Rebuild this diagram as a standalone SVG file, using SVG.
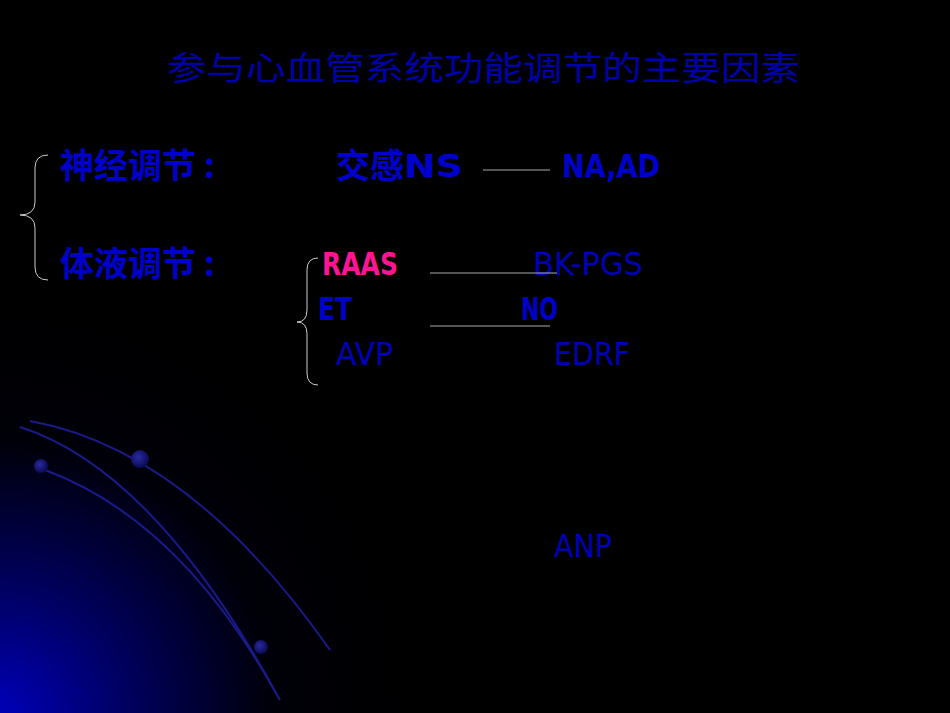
<svg xmlns="http://www.w3.org/2000/svg" width="950" height="713" viewBox="0 0 950 713">
<defs>
<radialGradient id="glow" cx="0" cy="713" r="420" gradientUnits="userSpaceOnUse">
<stop offset="0" stop-color="#0000B8"/>
<stop offset="0.3" stop-color="#000060"/>
<stop offset="0.65" stop-color="#000008"/>
<stop offset="1" stop-color="#000000"/>
</radialGradient>
<radialGradient id="ball" cx="0.4" cy="0.4" r="0.6">
<stop offset="0" stop-color="#2a2aa0"/>
<stop offset="1" stop-color="#0a0a55"/>
</radialGradient>
<style>
.t{font-family:"DejaVu Sans Condensed","DejaVu Sans","Noto Sans CJK SC",sans-serif;fill:#0000CC;}
.c{font-family:"Noto Sans CJK SC",sans-serif;fill:#0000CC;font-weight:bold;}
.b{font-weight:bold;}
.arc{fill:none;stroke:#1a1a8a;stroke-width:2;}
.ln{stroke:#aaaaaa;stroke-width:1;}
.br{fill:none;stroke:#cccccc;stroke-width:1;}
</style>
</defs>
<rect width="950" height="713" fill="#000"/>
<rect width="950" height="713" fill="url(#glow)"/>
<g id="background">
<path class="arc" d="M30 421 Q190 450 330 650"/>
<path class="arc" d="M20 427 Q155 470 280 700"/>
<path class="arc" d="M45 470 Q180 520 277 695"/>
<circle cx="140" cy="459" r="9" fill="url(#ball)"/>
<circle cx="41" cy="466" r="7" fill="url(#ball)"/>
<circle cx="261" cy="647" r="7" fill="url(#ball)"/>
</g>
<text class="c" x="167" y="80" font-size="33" textLength="633" lengthAdjust="spacingAndGlyphs" style="fill:#0000AA;font-weight:normal">参与心血管系统功能调节的主要因素</text>
<g id="neural">
<text class="c" x="60" y="178" font-size="34">神经调节 :</text>
<text class="c" x="336" y="178" font-size="34">交感</text>
<text class="t b" x="404" y="177" font-size="32" textLength="59" lengthAdjust="spacingAndGlyphs">NS</text>
<text class="t b" x="562" y="177" font-size="32" textLength="98" lengthAdjust="spacingAndGlyphs">NA,AD</text>
</g>
<g id="humoral">
<text class="c" x="60" y="276" font-size="34">体液调节 :</text>
<text class="t b" x="322" y="275" font-size="32" textLength="76" lengthAdjust="spacingAndGlyphs" style="fill:#FF1493">RAAS</text>
<text class="t" x="533" y="275" font-size="32" textLength="110" lengthAdjust="spacingAndGlyphs" style="fill:#0000B8">BK-PGS</text>
<text class="t b" x="318" y="320" font-size="32" textLength="34" lengthAdjust="spacingAndGlyphs">ET</text>
<text class="t b" x="521" y="320" font-size="32" textLength="37" lengthAdjust="spacingAndGlyphs">NO</text>
<text class="t" x="336" y="365" font-size="32" textLength="57" lengthAdjust="spacingAndGlyphs" style="fill:#0000B8">AVP</text>
<text class="t" x="554" y="365" font-size="32" textLength="76" lengthAdjust="spacingAndGlyphs" style="fill:#0000B8">EDRF</text>
<text class="t" x="554" y="557" font-size="32" textLength="58" lengthAdjust="spacingAndGlyphs" style="fill:#0000B8">ANP</text>
</g>
<g id="connectors">
<line class="ln" x1="483" y1="170" x2="550" y2="170"/>
<line class="ln" x1="430" y1="273" x2="557" y2="273"/>
<line class="ln" x1="430" y1="326" x2="550" y2="326"/>
<path class="br" d="M48 155 Q35 155 35 168 L35 202 Q35 215 20 215 Q35 215 35 228 L35 267 Q35 280 48 280"/>
<path class="br" d="M318 258 Q307 258 307 270 L307 310 Q307 322 297 322 Q307 322 307 334 L307 373 Q307 385 318 385"/>
</g>
</svg>
